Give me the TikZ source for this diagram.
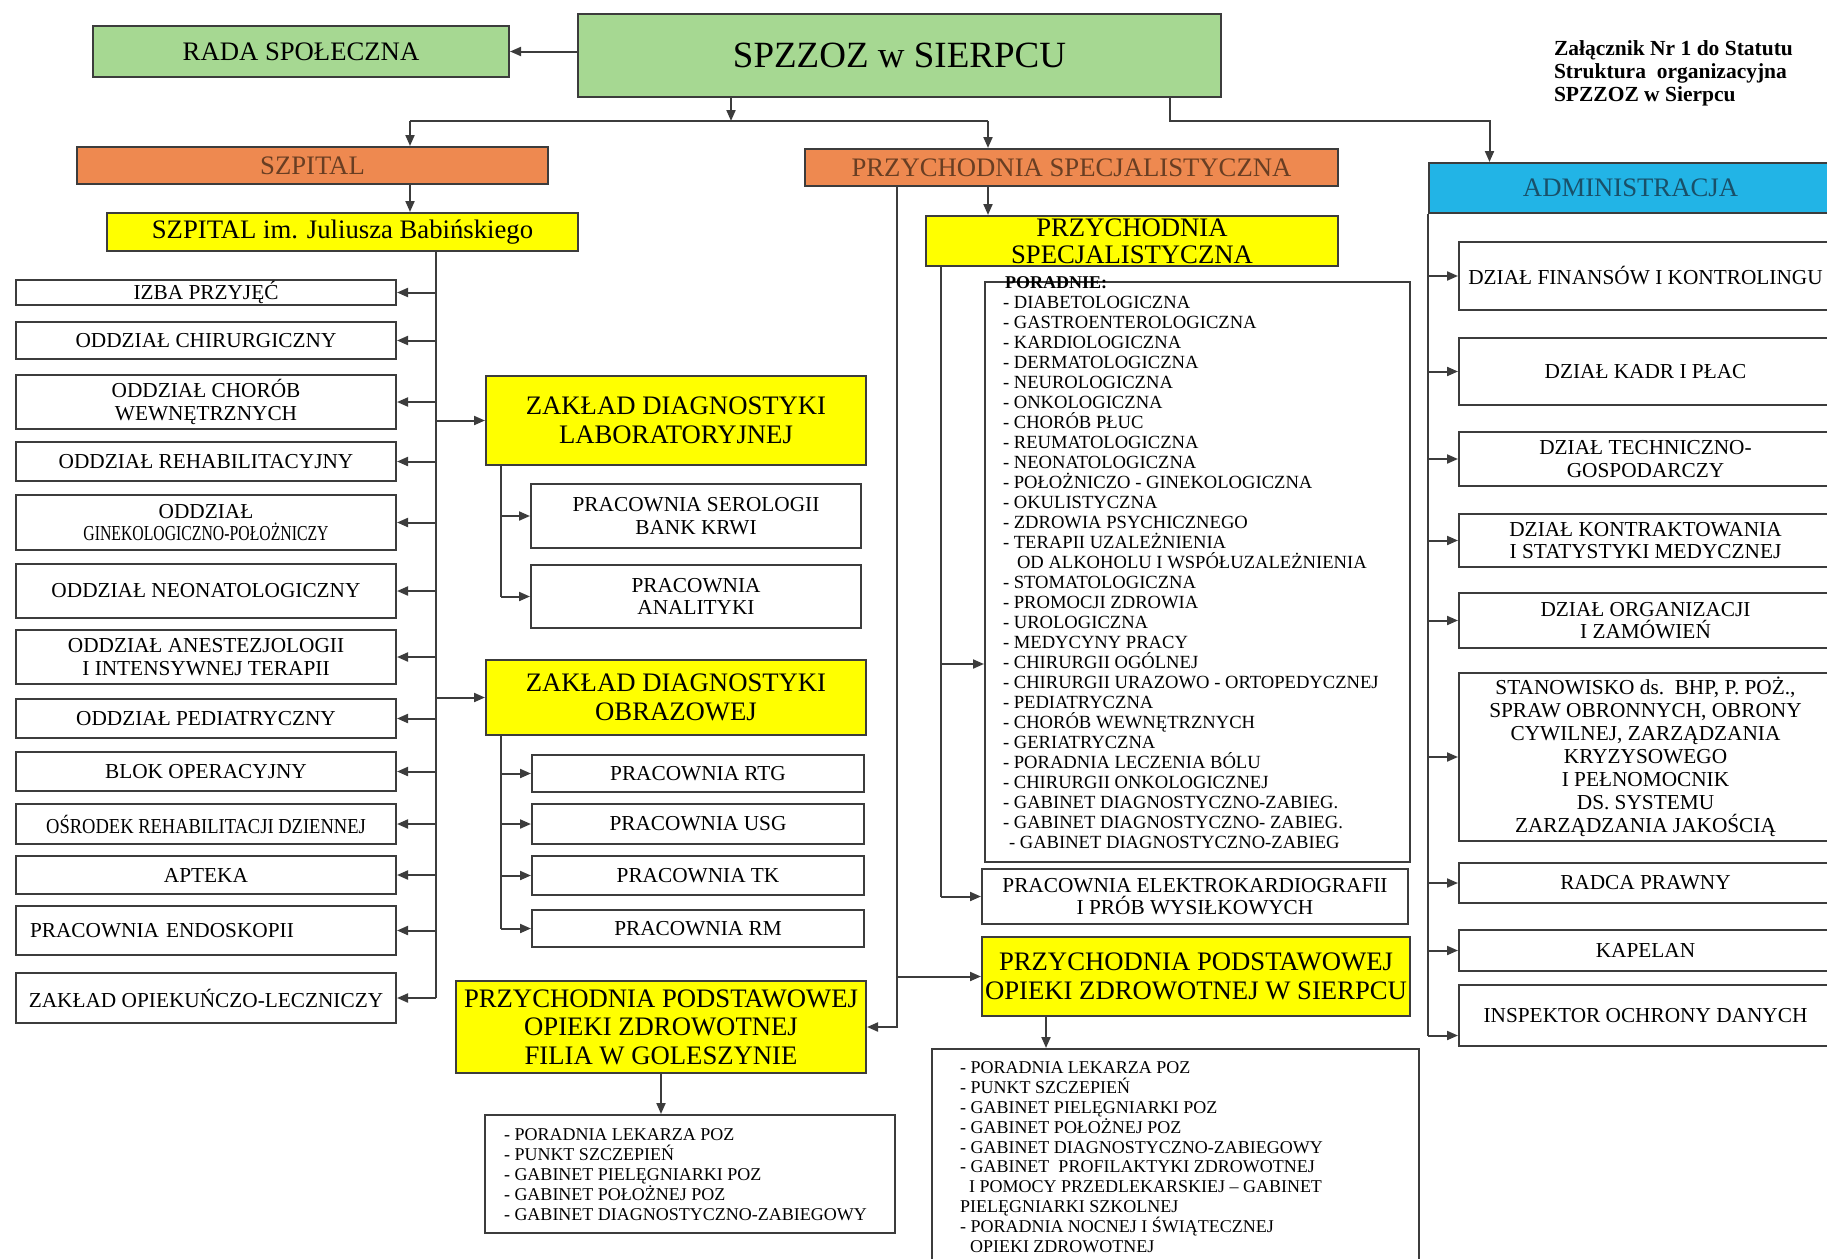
\documentclass[tikz,border=0pt]{standalone}
\usepackage{fontspec}
\setmainfont{Liberation Serif}
\usepackage{xcolor}
\usepackage{graphicx}
\usepackage{tikz}
\usetikzlibrary{arrows.meta}

\definecolor{zielony}{RGB}{166,216,146}
\definecolor{pomarancz}{RGB}{238,137,80}
\definecolor{zolty}{RGB}{255,255,0}
\definecolor{niebieski}{RGB}{34,180,230}
\definecolor{linia}{RGB}{60,60,60}
\definecolor{braz}{RGB}{105,62,35}
\definecolor{morski}{RGB}{25,80,105}

\begin{document}
\begin{tikzpicture}[x=1pt, y=-1pt, line width=2pt,
    box/.style={draw=linia, fill=white, inner sep=1pt, align=center, font=\fontsize{21.3}{22.5}\selectfont},
    head/.style={box, font=\fontsize{26.7}{29}\selectfont},
    listtext/.style={anchor=base west, inner sep=0pt, align=left, font=\fontsize{18}{20}\selectfont},
    ln/.style={draw=linia},
    arr/.style={draw=linia, -{Triangle[length=11pt,width=9pt]}}]

        \useasboundingbox (0,0) rectangle (1827,1258);

        % top level
        \node[head, fill=zielony, minimum width=416pt, minimum height=51pt] (rada) at (301,51.5) {RADA SPOŁECZNA};
        \node[head, fill=zielony, minimum width=643pt, minimum height=83pt, font=\fontsize{37}{40}\selectfont] (spzzoz) at (899.5,55.5) {SPZZOZ w SIERPCU};
        % multi-line text: the point is the baseline of the last line
        \node[anchor=base west, inner sep=0pt, align=left, font=\bfseries\fontsize{21.5}{23}\selectfont] (zal) at (1553,101) {Załącznik Nr 1 do Statutu\\Struktura\ \ organizacyjna\\SPZZOZ w Sierpcu};

        \node[head, fill=pomarancz, text=braz, minimum width=471pt, minimum height=37pt] (szpital) at (312.5,165.5) {SZPITAL};
        \node[head, fill=zolty, minimum width=471pt, minimum height=38pt] (babinski) at (342.5,232) {SZPITAL im. Juliusza Babińskiego};
        \node[head, fill=pomarancz, text=braz, minimum width=533pt, minimum height=37pt] (przs) at (1071.5,167.5) {PRZYCHODNIA SPECJALISTYCZNA};
        \node[head, fill=niebieski, text=morski, minimum width=403pt, minimum height=50pt] (admin) at (1630.5,188) {ADMINISTRACJA};

        % szpital
        \node[box, minimum width=380pt, minimum height=25pt] (izba) at (206,292.5) {IZBA PRZYJĘĆ};
        \node[box, minimum width=380pt, minimum height=37pt] (chir) at (206,340.5) {ODDZIAŁ CHIRURGICZNY};
        \node[box, minimum width=380pt, minimum height=54pt] (wewn) at (206,402) {ODDZIAŁ CHORÓB\\WEWNĘTRZNYCH};
        \node[box, minimum width=380pt, minimum height=39pt] (rehab) at (206,461.5) {ODDZIAŁ REHABILITACYJNY};
        \node[box, minimum width=380pt, minimum height=55pt] (gin) at (206,522.5) {ODDZIAŁ\\\scalebox{0.74}[1]{GINEKOLOGICZNO-POŁOŻNICZY}};
        \node[box, minimum width=380pt, minimum height=54pt] (neo) at (206,591) {ODDZIAŁ NEONATOLOGICZNY};
        \node[box, minimum width=380pt, minimum height=54pt] (anest) at (206,657) {ODDZIAŁ ANESTEZJOLOGII\\I INTENSYWNEJ TERAPII};
        \node[box, minimum width=380pt, minimum height=39pt] (ped) at (206,718.5) {ODDZIAŁ PEDIATRYCZNY};
        \node[box, minimum width=380pt, minimum height=39pt] (blok) at (206,771.5) {BLOK OPERACYJNY};
        \node[box, minimum width=380pt, minimum height=40pt] (osrod) at (206,824) {\scalebox{0.87}[1]{OŚRODEK REHABILITACJI DZIENNEJ}};
        \node[box, minimum width=380pt, minimum height=38pt] (apteka) at (206,875) {APTEKA};
        \node[box, text width=352pt, inner xsep=14pt, align=left, minimum height=49pt] (endo) at (206,930.5) {PRACOWNIA ENDOSKOPII};
        \node[box, minimum width=380pt, minimum height=50pt] (zol) at (206,998) {ZAKŁAD OPIEKUŃCZO-LECZNICZY};

        % diagnostyka
        \node[head, fill=zolty, minimum width=380pt, minimum height=89pt] (zdl) at (676,420.5) {ZAKŁAD DIAGNOSTYKI\\LABORATORYJNEJ};
        \node[box, minimum width=330pt, minimum height=64pt] (serol) at (696,516) {PRACOWNIA SEROLOGII\\BANK KRWI};
        \node[box, minimum width=330pt, minimum height=63pt] (anal) at (696,596.5) {PRACOWNIA\\ANALITYKI};
        \node[head, fill=zolty, minimum width=380pt, minimum height=75pt] (zdo) at (676,697.5) {ZAKŁAD DIAGNOSTYKI\\OBRAZOWEJ};
        \node[box, minimum width=332pt, minimum height=37pt] (rtg) at (698,773.5) {PRACOWNIA RTG};
        \node[box, minimum width=332pt, minimum height=40pt] (usg) at (698,824) {PRACOWNIA USG};
        \node[box, minimum width=332pt, minimum height=39pt] (tk) at (698,875.5) {PRACOWNIA TK};
        \node[box, minimum width=332pt, minimum height=37pt] (rm) at (698,928.5) {PRACOWNIA RM};

        % przychodnie
        \node[head, fill=zolty, inner sep=0pt, minimum width=412pt, minimum height=50pt, font=\fontsize{26.7}{27}\selectfont] (przy) at (1132,241) {PRZYCHODNIA\\SPECJALISTYCZNA};
        \node[box, minimum width=425pt, minimum height=580pt] (poradnie) at (1197.5,572) {};
        \node[anchor=base west, inner sep=0pt, font=\bfseries\fontsize{18}{20}\selectfont] (porHead) at (1004,288) {PORADNIE:};
        \node[listtext, font=\fontsize{18.6}{20}\selectfont] (porList) at (1002,848) {- DIABETOLOGICZNA\\- GASTROENTEROLOGICZNA\\- KARDIOLOGICZNA\\- DERMATOLOGICZNA\\- NEUROLOGICZNA\\- ONKOLOGICZNA\\- CHORÓB PŁUC\\- REUMATOLOGICZNA\\- NEONATOLOGICZNA\\- POŁOŻNICZO - GINEKOLOGICZNA\\- OKULISTYCZNA\\- ZDROWIA PSYCHICZNEGO\\- TERAPII UZALEŻNIENIA\\\hspace*{14pt}OD ALKOHOLU I WSPÓŁUZALEŻNIENIA\\- STOMATOLOGICZNA\\- PROMOCJI ZDROWIA\\- UROLOGICZNA\\- MEDYCYNY PRACY\\- CHIRURGII OGÓLNEJ\\- CHIRURGII URAZOWO - ORTOPEDYCZNEJ\\- PEDIATRYCZNA\\- CHORÓB WEWNĘTRZNYCH\\- GERIATRYCZNA\\- PORADNIA LECZENIA BÓLU\\- CHIRURGII ONKOLOGICZNEJ\\- GABINET DIAGNOSTYCZNO-ZABIEG.\\- GABINET DIAGNOSTYCZNO- ZABIEG.\\\hspace*{6pt}- GABINET DIAGNOSTYCZNO-ZABIEG};
        \node[box, minimum width=426pt, minimum height=55pt] (ekg) at (1195,896.5) {PRACOWNIA ELEKTROKARDIOGRAFII\\I PRÓB WYSIŁKOWYCH};
        \node[head, fill=zolty, minimum width=428pt, minimum height=79pt] (ppozs) at (1196,976.5) {PRZYCHODNIA PODSTAWOWEJ\\OPIEKI ZDROWOTNEJ W SIERPCU};
        \node[head, fill=zolty, minimum width=410pt, minimum height=92pt, font=\fontsize{26.7}{28.5}\selectfont] (gol) at (661,1027) {PRZYCHODNIA PODSTAWOWEJ\\OPIEKI ZDROWOTNEJ\\FILIA W GOLESZYNIE};
        \node[box, minimum width=410pt, minimum height=118pt] (gollist) at (690,1174) {};
        \node[listtext] (golText) at (503,1220) {- PORADNIA LEKARZA POZ\\- PUNKT SZCZEPIEŃ\\- GABINET PIELĘGNIARKI POZ\\- GABINET POŁOŻNEJ POZ\\- GABINET DIAGNOSTYCZNO-ZABIEGOWY};
        \node[box, minimum width=487pt, minimum height=221pt] (sierlist) at (1175.5,1159.5) {};
        \node[listtext, font=\fontsize{18}{19.8}\selectfont] (sierText) at (959,1252) {- PORADNIA LEKARZA POZ\\- PUNKT SZCZEPIEŃ\\- GABINET PIELĘGNIARKI POZ\\- GABINET POŁOŻNEJ POZ\\- GABINET DIAGNOSTYCZNO-ZABIEGOWY\\- GABINET\ \ PROFILAKTYKI ZDROWOTNEJ\\\hspace*{9pt}I POMOCY PRZEDLEKARSKIEJ – GABINET\\PIELĘGNIARKI SZKOLNEJ\\- PORADNIA NOCNEJ I ŚWIĄTECZNEJ\\\hspace*{10pt}OPIEKI ZDROWOTNEJ};

        % administracja
        \node[box, minimum width=373pt, minimum height=68pt] (fin) at (1645.5,276) {DZIAŁ FINANSÓW I KONTROLINGU};
        \node[box, minimum width=373pt, minimum height=67pt] (kadr) at (1645.5,371.5) {DZIAŁ KADR I PŁAC};
        \node[box, minimum width=373pt, minimum height=54pt] (tech) at (1645.5,459) {DZIAŁ TECHNICZNO-\\GOSPODARCZY};
        \node[box, minimum width=373pt, minimum height=53pt] (kontr) at (1645.5,540.5) {DZIAŁ KONTRAKTOWANIA\\I STATYSTYKI MEDYCZNEJ};
        \node[box, minimum width=373pt, minimum height=55pt] (org) at (1645.5,620.5) {DZIAŁ ORGANIZACJI\\I ZAMÓWIEŃ};
        \node[box, minimum width=373pt, minimum height=168pt, font=\fontsize{21.3}{23}\selectfont] (bhp) at (1645.5,757) {STANOWISKO ds.\ \ BHP, P. POŻ.,\\SPRAW OBRONNYCH, OBRONY\\CYWILNEJ, ZARZĄDZANIA\\KRYZYSOWEGO\\I PEŁNOMOCNIK\\DS. SYSTEMU\\ZARZĄDZANIA JAKOŚCIĄ};
        \node[box, minimum width=373pt, minimum height=40pt] (radca) at (1645.5,883) {RADCA PRAWNY};
        \node[box, minimum width=373pt, minimum height=41pt] (kapelan) at (1645.5,950.5) {KAPELAN};
        \node[box, minimum width=373pt, minimum height=61pt] (iod) at (1645.5,1015.5) {INSPEKTOR OCHRONY DANYCH};

        % connectors, top
        \coordinate (rozg) at (731,121);
        \coordinate (rozgL) at (410,121);
        \coordinate (rozgP) at (988,121);
        \draw[arr] (spzzoz.west |- rada.east) -- (rada.east);
        \draw[arr] (spzzoz.south -| rozg) -- (rozg);
        \draw[ln] (rozgL) -- (rozgP);
        \draw[arr] (rozgL) -- (rozgL |- szpital.north);
        \draw[arr] (rozgP) -- (rozgP |- przs.north);
        \draw[arr] (rozgL |- szpital.south) -- (rozgL |- babinski.north);
        \draw[arr] (rozgP |- przs.south) -- (rozgP |- przy.north);
        \draw[arr] ([xshift=270.5pt]spzzoz.south) -- ++(0,23) -| ([xshift=-141pt]admin.north);

        % connectors, szpital
        \coordinate (pionL) at ([xshift=93.5pt]babinski.south);
        \draw[ln] (pionL) -- (pionL |- zol.east);
        \draw[arr] (pionL |- izba.east) -- (izba.east);
        \draw[arr] (pionL |- chir.east) -- (chir.east);
        \draw[arr] (pionL |- wewn.east) -- (wewn.east);
        \draw[arr] (pionL |- rehab.east) -- (rehab.east);
        \draw[arr] (pionL |- gin.east) -- (gin.east);
        \draw[arr] (pionL |- neo.east) -- (neo.east);
        \draw[arr] (pionL |- anest.east) -- (anest.east);
        \draw[arr] (pionL |- ped.east) -- (ped.east);
        \draw[arr] (pionL |- blok.east) -- (blok.east);
        \draw[arr] (pionL |- osrod.east) -- (osrod.east);
        \draw[arr] (pionL |- apteka.east) -- (apteka.east);
        \draw[arr] (pionL |- endo.east) -- (endo.east);
        \draw[arr] (pionL |- zol.east) -- (zol.east);
        \draw[arr] (pionL |- zdl.west) -- (zdl.west);
        \draw[arr] (pionL |- zdo.west) -- (zdo.west);

        \coordinate (pionLab) at ([xshift=-175pt]zdl.south);
        \draw[ln] (pionLab) -- (pionLab |- anal.west);
        \draw[arr] (pionLab |- serol.west) -- (serol.west);
        \draw[arr] (pionLab |- anal.west) -- (anal.west);

        \coordinate (pionObr) at ([xshift=-175pt]zdo.south);
        \draw[ln] (pionObr) -- (pionObr |- rm.west);
        \draw[arr] (pionObr |- rtg.west) -- (rtg.west);
        \draw[arr] (pionObr |- usg.west) -- (usg.west);
        \draw[arr] (pionObr |- tk.west) -- (tk.west);
        \draw[arr] (pionObr |- rm.west) -- (rm.west);

        % connectors, przychodnie
        \coordinate (pionPS) at ([xshift=-191pt]przy.south);
        \coordinate (porWej) at ([yshift=-92pt]poradnie.west);
        \draw[ln] (pionPS) -- (pionPS |- ekg.west);
        \draw[arr] (pionPS |- porWej) -- (porWej);
        \draw[arr] (pionPS |- ekg.west) -- (ekg.west);

        \coordinate (pionP) at ([xshift=-174.5pt]przs.south);
        \draw[arr] (pionP) |- (gol.east);
        \draw[arr] (pionP |- ppozs.west) -- (ppozs.west);
        \draw[arr] (gol.south) -- (gol.south |- gollist.north);
        \coordinate (sierWyj) at ([xshift=-150pt]ppozs.south);
        \draw[arr] (sierWyj) -- (sierWyj |- sierlist.north);

        % connectors, administracja
        \coordinate (pionA) at (admin.south west);
        \coordinate (iodWej) at ([yshift=-20pt]iod.west);
        \draw[ln] (pionA) -- (pionA |- iodWej);
        \draw[arr] (pionA |- fin.west) -- (fin.west);
        \draw[arr] (pionA |- kadr.west) -- (kadr.west);
        \draw[arr] (pionA |- tech.west) -- (tech.west);
        \draw[arr] (pionA |- kontr.west) -- (kontr.west);
        \draw[arr] (pionA |- org.west) -- (org.west);
        \draw[arr] (pionA |- bhp.west) -- (bhp.west);
        \draw[arr] (pionA |- radca.west) -- (radca.west);
        \draw[arr] (pionA |- kapelan.west) -- (kapelan.west);
        \draw[arr] (pionA |- iodWej) -- (iodWej);

    \end{tikzpicture}
\end{document}
